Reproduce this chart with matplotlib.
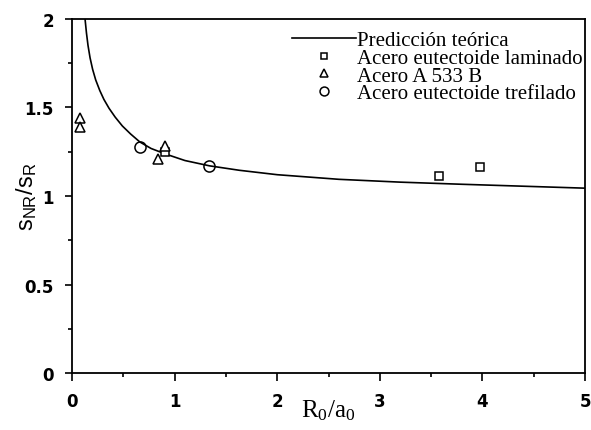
import matplotlib
matplotlib.use("Agg")
import matplotlib.pyplot as plt
from matplotlib.ticker import MultipleLocator

# Predicción teórica (curva)
curve_x = [0.126, 0.14, 0.155, 0.175, 0.2, 0.23, 0.27, 0.31, 0.36, 0.42,
           0.49, 0.57, 0.66, 0.77, 0.91, 1.1, 1.34, 1.63, 2.0, 2.6,
           3.2, 3.8, 4.4, 5.0]
curve_y = [2.0, 1.92, 1.85, 1.78, 1.715, 1.655, 1.595, 1.545, 1.495, 1.445,
           1.395, 1.35, 1.305, 1.268, 1.237, 1.20, 1.17, 1.145, 1.12, 1.094,
           1.078, 1.066, 1.055, 1.044]

# Acero eutectoide laminado
lam_x = [0.91, 3.58, 3.98]
lam_y = [1.246, 1.115, 1.166]

# Acero A 533 B
a533_x = [0.08, 0.08, 0.91, 0.84]
a533_y = [1.44, 1.39, 1.28, 1.21]

# Acero eutectoide trefilado
tref_x = [0.66, 1.33]
tref_y = [1.275, 1.171]

labels = ["Predicción teórica", "Acero eutectoide laminado",
          "Acero A 533 B", "Acero eutectoide trefilado"]

fig = plt.figure(figsize=(5.91, 4.31), dpi=100)
ax = fig.add_axes([0.122, 0.132, 0.868, 0.822])

ax.plot(curve_x, curve_y, color="black", lw=1.2, label=labels[0])
ax.plot(lam_x, lam_y, ls="none", marker="s", ms=6, mfc="white", mec="black",
        mew=1.1, label=labels[1])
ax.plot(a533_x, a533_y, ls="none", marker="^", ms=7, mfc="white", mec="black",
        mew=1.1, label=labels[2])
ax.plot(tref_x, tref_y, ls="none", marker="o", ms=8, mfc="none", mec="black",
        mew=1.1, label=labels[3])

ax.set_xlim(0, 5)
ax.set_ylim(0, 2)
ax.xaxis.set_major_locator(MultipleLocator(1))
ax.xaxis.set_minor_locator(MultipleLocator(0.5))
ax.yaxis.set_minor_locator(MultipleLocator(0.25))
ax.set_yticks([0, 0.5, 1, 1.5, 2])
ax.set_yticklabels(["0", "0.5", "1", "1.5", "2"])
ax.tick_params(which="both", direction="out", width=1.2, labelsize=12,
               labelfontfamily="DejaVu Sans")
ax.tick_params(axis="x", which="major", length=6, pad=7.5)
ax.tick_params(axis="y", which="major", length=5, pad=8)
ax.tick_params(which="minor", length=3)
for lab in ax.get_xticklabels() + ax.get_yticklabels():
    lab.set_fontweight("bold")
for s in ax.spines.values():
    s.set_linewidth(1.3)

ax.set_xlabel(r"$\mathregular{R_0/a_0}$", fontsize=18,
              family="Liberation Serif", labelpad=-9)
ax.set_ylabel(r"$\mathregular{s_{NR}/s_R}$", fontsize=17,
              family="Liberation Sans", labelpad=-10)

ax.legend(loc="upper right", bbox_to_anchor=(1.012, 0.99), frameon=False,
          prop={"family": "Liberation Serif", "size": 15},
          handlelength=3.1, handletextpad=0.05, labelspacing=-0.09,
          borderaxespad=0.0, markerscale=0.8)

fig.savefig("out.png", dpi=100)
